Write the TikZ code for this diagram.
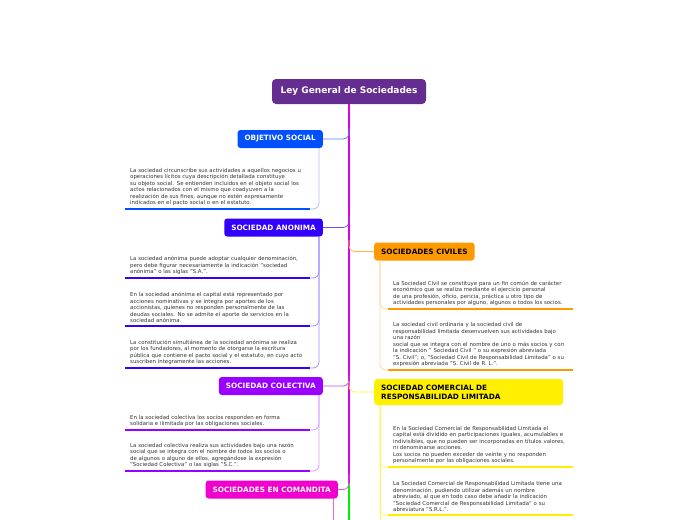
\documentclass[tikz,border=0pt]{standalone}
\usepackage{fontspec}
\setmainfont{DejaVu Sans}
\usepackage{tikz}
\usetikzlibrary{positioning}
\definecolor{titlepurple}{HTML}{662D91}
\definecolor{objblue}{HTML}{0050FF}
\definecolor{anonblue}{HTML}{3300FF}
\definecolor{colpurple}{HTML}{9900FF}
\definecolor{commagenta}{HTML}{F000CC}
\definecolor{civorange}{HTML}{FF9900}
\definecolor{srlyellow}{HTML}{FFF000}
\definecolor{trunkmag}{HTML}{E000E6}
\definecolor{trunkgreen}{HTML}{00F000}
\definecolor{notegray}{HTML}{333333}

\begin{document}
\begin{tikzpicture}[x=1pt, y=-1pt,
    topic/.style={rounded corners=3pt, fill=#1, text=white, font=\fontsize{7.3}{9}\selectfont\bfseries, minimum height=18pt, inner xsep=7pt},
    darktopic/.style={topic=#1, text=black},
    note/.style={anchor=south west, text width=175pt, inner xsep=5pt, inner ysep=3pt, align=left, text=notegray, font=\fontsize{5.4}{6.5}\selectfont},
    bar/.style={#1, line width=2.5pt},
    link/.style={#1, line width=0.8pt, rounded corners=6pt}]
    \useasboundingbox (0,0) rectangle (697,520);

    \node[fill=titlepurple, rounded corners=4pt, text=white, font=\fontsize{9}{11}\selectfont\bfseries, minimum width=154pt, minimum height=25pt] (title) at (349,91.5) {Ley General de Sociedades};
    \coordinate (trunkend) at (349,483);
    \coordinate (bottom) at (349,520);
    \draw[trunkmag, line width=2.5pt] (title.south) -- (trunkend);
    \draw[trunkgreen, line width=2.5pt] (trunkend) -- (bottom);

    \coordinate (j1) at (349,128);
    \coordinate (j2) at (349,216);
    \coordinate (j3) at (349,375);
    \coordinate (j4) at (349,474);
    \coordinate (j5) at (349,240);
    \coordinate (j6) at (349,381);

    \node[topic=objblue, anchor=east] (obj) at (323,139) {OBJETIVO SOCIAL};
    \node[topic=anonblue, anchor=east] (anon) at (323,227.5) {SOCIEDAD ANONIMA};
    \node[topic=colpurple, anchor=east] (col) at (323,386) {SOCIEDAD COLECTIVA};
    \node[topic=commagenta, anchor=east] (com) at (338,489.5) {SOCIEDADES EN COMANDITA};
    \node[darktopic=civorange, anchor=west] (civ) at (374,251.5) {SOCIEDADES CIVILES};
    \node[darktopic=srlyellow, anchor=west, minimum height=26pt, text width=175pt, align=left] (srl) at (374,392) {SOCIEDAD COMERCIAL DE\\RESPONSABILIDAD LIMITADA};

    \draw[link=objblue!70] (obj.east) -| (j1);
    \draw[link=anonblue!70] (anon.east) -| (j2);
    \draw[link=colpurple!70] (col.east) -| (j3);
    \draw[link=commagenta!70] (com.east) -| (j4);
    \draw[link=civorange!70] (j5) |- (civ.west);
    \draw[link=srlyellow!80] (j6) |- (srl.west);

    \node[note] (obj1) at (125,209) {La sociedad circunscribe sus actividades a aquellos negocios u\\operaciones lícitos cuya descripción detallada constituye\\su objeto social. Se entienden incluidos en el objeto social los\\actos relacionados con el mismo que coadyuven a la\\realización de sus fines, aunque no estén expresamente\\indicados en el pacto social o en el estatuto.};

    \node[note] (anon1) at (125,278) {La sociedad anónima puede adoptar cualquier denominación,\\pero debe figurar necesariamente la indicación "sociedad\\anónima" o las siglas "S.A.".};
    \node[note] (anon2) at (125,326) {En la sociedad anónima el capital está representado por\\acciones nominativas y se integra por aportes de los\\accionistas, quienes no responden personalmente de las\\deudas sociales. No se admite el aporte de servicios en la\\sociedad anónima.};
    \node[note] (anon3) at (125,368) {La constitución simultánea de la sociedad anónima se realiza\\por los fundadores, al momento de otorgarse la escritura\\pública que contiene el pacto social y el estatuto, en cuyo acto\\suscriben íntegramente las acciones.};

    \node[note] (col1) at (125,430) {En la sociedad colectiva los socios responden en forma\\solidaria e ilimitada por las obligaciones sociales.};
    \node[note] (col2) at (125,471) {La sociedad colectiva realiza sus actividades bajo una razón\\social que se integra con el nombre de todos los socios o\\de algunos o alguno de ellos, agregándose la expresión\\"Sociedad Colectiva" o las siglas "S.C.".};

    \node[note] (civ1) at (388,309) {La Sociedad Civil se constituye para un fin común de carácter\\económico que se realiza mediante el ejercicio personal\\de una profesión, oficio, pericia, práctica u otro tipo de\\actividades personales por alguno, algunos o todos los socios.};
    \node[note] (civ2) at (388,370) {La sociedad civil ordinaria y la sociedad civil de\\responsabilidad limitada desenvuelven sus actividades bajo\\una razón\\social que se integra con el nombre de uno o más socios y con\\la indicación " Sociedad Civil " o su expresión abreviada\\"S. Civil"; o, "Sociedad Civil de Responsabilidad Limitada" o su\\expresión abreviada "S. Civil de R. L.".};

    \node[note] (srl1) at (388,467) {En la Sociedad Comercial de Responsabilidad Limitada el\\capital está dividido en participaciones iguales, acumulables e\\indivisibles, que no pueden ser incorporadas en títulos valores,\\ni denominarse acciones.\\Los socios no pueden exceder de veinte y no responden\\personalmente por las obligaciones sociales.};
    \node[note] (srl2) at (388,515) {La Sociedad Comercial de Responsabilidad Limitada tiene una\\denominación, pudiendo utilizar además un nombre\\abreviado, al que en todo caso debe añadir la indicación\\"Sociedad Comercial de Responsabilidad Limitada" o su\\abreviatura "S.R.L.".};

    \draw[link=objblue!35] ([xshift=-4pt]obj.south east) |- (obj1.south east);
    \draw[link=anonblue!45] ([xshift=-4pt]anon.south east) |- (anon1.south east);
    \draw[link=anonblue!45] ([xshift=-4pt]anon.south east) |- (anon2.south east);
    \draw[link=anonblue!45] ([xshift=-4pt]anon.south east) |- (anon3.south east);
    \draw[link=colpurple!40] ([xshift=-4pt]col.south east) |- (col1.south east);
    \draw[link=colpurple!40] ([xshift=-4pt]col.south east) |- (col2.south east);
    \draw[link=commagenta!60] ([xshift=-5pt]com.south east) -- ([xshift=-5pt]com.south east |- bottom);
    \draw[link=civorange!40] ([xshift=6pt]civ.south west) |- (civ1.south west);
    \draw[link=civorange!40] ([xshift=6pt]civ.south west) |- (civ2.south west);
    \draw[link=srlyellow!60] ([xshift=6pt]srl.south west) |- (srl1.south west);
    \draw[link=srlyellow!60] ([xshift=6pt]srl.south west) |- (srl2.south west);
    \draw[link=srlyellow!60] ([xshift=6pt]srl.south west) -- ([xshift=6pt]srl.south west |- bottom);

    \draw[bar=objblue] (obj1.south west) -- (obj1.south east);
    \draw[bar=anonblue] (anon1.south west) -- (anon1.south east);
    \draw[bar=anonblue] (anon2.south west) -- (anon2.south east);
    \draw[bar=anonblue] (anon3.south west) -- (anon3.south east);
    \draw[bar=colpurple] (col1.south west) -- (col1.south east);
    \draw[bar=colpurple] (col2.south west) -- (col2.south east);
    \draw[bar=civorange] (civ1.south west) -- (civ1.south east);
    \draw[bar=civorange] (civ2.south west) -- (civ2.south east);
    \draw[bar=srlyellow] (srl1.south west) -- (srl1.south east);
    \draw[bar=srlyellow] (srl2.south west) -- (srl2.south east);
\end{tikzpicture}
\end{document}
